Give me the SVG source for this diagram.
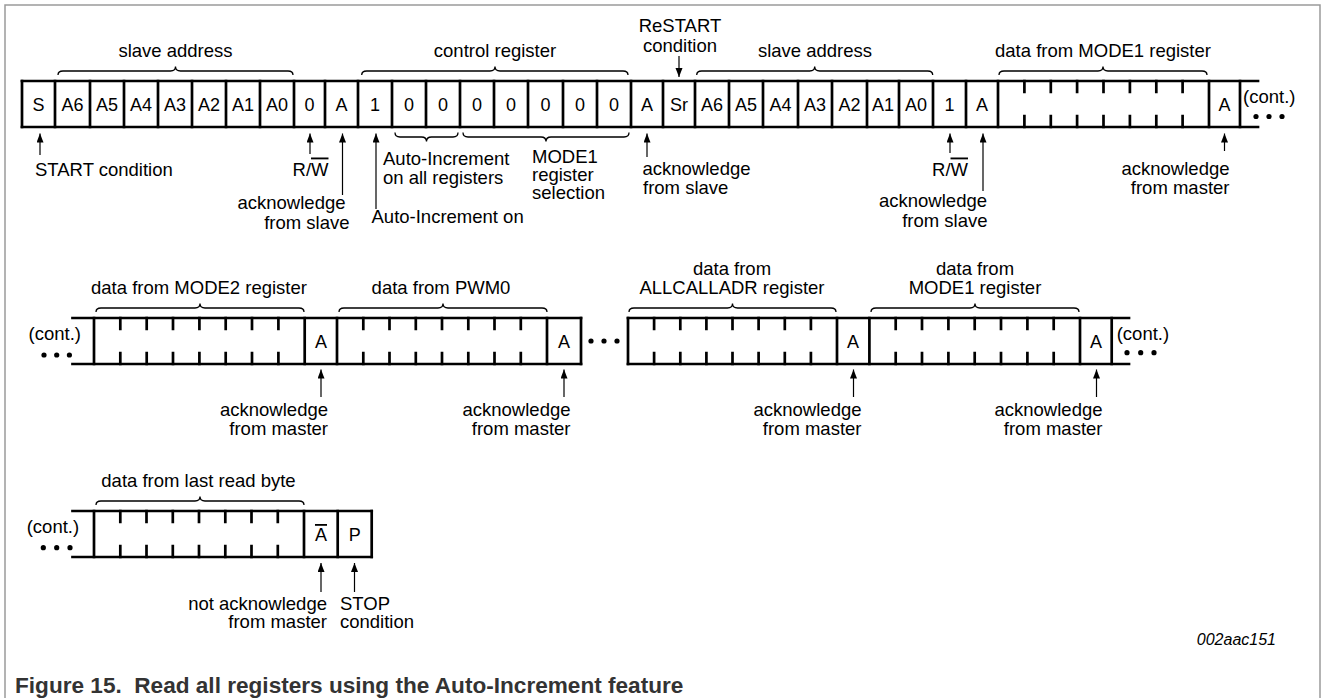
<svg xmlns="http://www.w3.org/2000/svg" width="1326" height="698" viewBox="0 0 1326 698">
<defs>
<style>
.frame{stroke:#9a9a9a;stroke-width:1.5;fill:none}
.bar{stroke:#000;stroke-width:2.7;fill:none;stroke-linecap:square}
.brace{stroke:#000;stroke-width:1.3;fill:none}
.arr{stroke:#000;stroke-width:1.2;fill:none;marker-end:url(#ah)}
.dot{fill:#000}
text{font-family:"Liberation Sans",Arial,Helvetica,sans-serif;font-size:18.5px;fill:#000}
.c{font-size:18px;text-anchor:middle}
.m{text-anchor:middle}
.e{text-anchor:end}
.ov{text-decoration:overline}
.id{font-style:italic;font-size:16px;text-anchor:end}
.cap{font-weight:bold;font-size:22.6px;fill:#333}
</style>
<marker id="ah" markerWidth="10" markerHeight="8" refX="9" refY="3.5" orient="auto" markerUnits="userSpaceOnUse">
<path d="M0,0 L9,3.5 L0,7 z" fill="#000"/>
</marker>
</defs>
<rect width="1326" height="698" fill="#fff"/>
<path class="frame" d="M5,698 V5 H1320 V698"/>

<!-- ROW 1 -->
<g id="row1">
<path class="bar" d="M22,81 H1258 M22,127 H1258"/>
<path class="bar" d="M22,81V127 M55,81V127 M90,81V127 M124,81V127 M158,81V127 M192,81V127 M226,81V127 M260,81V127 M294,81V127 M325,81V127 M358,81V127 M392,81V127 M426,81V127 M460,81V127 M494,81V127 M528,81V127 M563,81V127 M597,81V127 M631,81V127 M663,81V127 M695,81V127 M729,81V127 M763,81V127 M798,81V127 M832,81V127 M867,81V127 M899,81V127 M933,81V127 M966,81V127 M998,81V127 M1209,81V127 M1240,81V127"/>
<path class="bar" d="M1024.4,81V92 M1050.8,81V92 M1077.1,81V92 M1103.5,81V92 M1129.9,81V92 M1156.3,81V92 M1182.6,81V92 M1024.4,116V127 M1050.8,116V127 M1077.1,116V127 M1103.5,116V127 M1129.9,116V127 M1156.3,116V127 M1182.6,116V127"/>
<text class="c" x="38.5" y="111">S</text>
<text class="c" x="72.5" y="111">A6</text>
<text class="c" x="107" y="111">A5</text>
<text class="c" x="141" y="111">A4</text>
<text class="c" x="175" y="111">A3</text>
<text class="c" x="209" y="111">A2</text>
<text class="c" x="243" y="111">A1</text>
<text class="c" x="277" y="111">A0</text>
<text class="c" x="309.5" y="111">0</text>
<text class="c" x="341.5" y="111">A</text>
<text class="c" x="375" y="111">1</text>
<text class="c" x="409" y="111">0</text>
<text class="c" x="443" y="111">0</text>
<text class="c" x="477" y="111">0</text>
<text class="c" x="511" y="111">0</text>
<text class="c" x="545.5" y="111">0</text>
<text class="c" x="580" y="111">0</text>
<text class="c" x="614" y="111">0</text>
<text class="c" x="647" y="111">A</text>
<text class="c" x="679" y="111">Sr</text>
<text class="c" x="712" y="111">A6</text>
<text class="c" x="746" y="111">A5</text>
<text class="c" x="780.5" y="111">A4</text>
<text class="c" x="815" y="111">A3</text>
<text class="c" x="849.5" y="111">A2</text>
<text class="c" x="883" y="111">A1</text>
<text class="c" x="916" y="111">A0</text>
<text class="c" x="949.5" y="111">1</text>
<text class="c" x="982" y="111">A</text>
<text class="c" x="1224.5" y="111">A</text>
<text x="1243" y="103">(cont.)</text>
<circle class="dot" cx="1256" cy="116.5" r="2.6"/><circle class="dot" cx="1269" cy="116.5" r="2.6"/><circle class="dot" cx="1282" cy="116.5" r="2.6"/>
</g>

<g id="brace-slave-address-1">
<path class="brace" d="M58,75 Q58,71 63,71 H170.5 Q175.5,71 175.5,66.5 Q175.5,71 180.5,71 H288 Q293,71 293,75"/>
<text class="m" x="175.5" y="57">slave address</text>
</g>
<g id="brace-control-register">
<path class="brace" d="M361.7,75 Q361.7,71 366.7,71 H490 Q495,71 495,66.5 Q495,71 500,71 H623 Q628,71 628,75"/>
<text class="m" x="495" y="57">control register</text>
</g>
<g id="brace-slave-address-2">
<path class="brace" d="M696.7,75 Q696.7,71 701.7,71 H809.7 Q814.7,71 814.7,66.5 Q814.7,71 819.7,71 H927.7 Q932.7,71 932.7,75"/>
<text class="m" x="815" y="57">slave address</text>
</g>
<g id="brace-mode1-data">
<path class="brace" d="M999,75 Q999,71 1004,71 H1098 Q1103,71 1103,66.5 Q1103,71 1108,71 H1202 Q1207,71 1207,75"/>
<text class="m" x="1103" y="57">data from MODE1 register</text>
</g>
<g id="label-restart">
<text class="m" x="680" y="32">ReSTART</text>
<text class="m" x="680" y="51.5">condition</text>
</g>
<g id="brace-auto-increment-all">
<path class="brace" d="M395,132.5 Q395,137 400,137 H421.5 Q426.5,137 426.5,141.5 Q426.5,137 431.5,137 H453 Q458,137 458,132.5"/>
<text x="383" y="165">Auto-Increment</text>
<text x="383" y="183.5">on all registers</text>
</g>
<g id="brace-mode1-selection">
<path class="brace" d="M463,132.5 Q463,137 468,137 H541 Q546,137 546,141.5 Q546,137 551,137 H624 Q629,137 629,132.5"/>
<text x="532" y="162.5">MODE1</text>
<text x="532" y="180.5">register</text>
<text x="532" y="199">selection</text>
</g>
<g id="label-start">
<text x="35" y="175.5">START condition</text>
</g>
<g id="label-rw-1">
<text class="m" x="310.5" y="175.5">R/<tspan class="ov">W</tspan></text>
</g>
<g id="label-ack-slave-1">
<text class="e" x="345.5" y="209">acknowledge</text>
<text class="e" x="349.5" y="228.5">from slave</text>
</g>
<g id="label-auto-increment-on">
<text x="371.5" y="223">Auto-Increment on</text>
</g>
<g id="label-ack-slave-2">
<text x="642.5" y="175">acknowledge</text>
<text x="643" y="193.5">from slave</text>
</g>
<g id="label-rw-2">
<text class="m" x="950" y="175.5">R/<tspan class="ov">W</tspan></text>
</g>
<g id="label-ack-slave-3">
<text class="e" x="987" y="207">acknowledge</text>
<text class="e" x="987.5" y="226.5">from slave</text>
</g>
<g id="label-ack-master-1">
<text class="e" x="1229.5" y="175">acknowledge</text>
<text class="e" x="1229.5" y="193.5">from master</text>
</g>

<!-- ROW 2 -->
<g id="row2">
<path class="bar" d="M72.5,318 H581 M72.5,364 H581 M628,318 H1129 M628,364 H1129"/>
<path class="bar" d="M94,318V364 M304.7,318V364 M337,318V364 M547,318V364 M581,318V364 M628,318V364 M837,318V364 M869.4,318V364 M1080,318V364 M1111.7,318V364"/>
<path class="bar" d="M120.3,318V329 M146.7,318V329 M173,318V329 M199.4,318V329 M225.7,318V329 M252,318V329 M278.4,318V329 M120.3,353V364 M146.7,353V364 M173,353V364 M199.4,353V364 M225.7,353V364 M252,353V364 M278.4,353V364"/>
<path class="bar" d="M363.3,318V329 M389.5,318V329 M415.8,318V329 M442,318V329 M468.3,318V329 M494.5,318V329 M520.8,318V329 M363.3,353V364 M389.5,353V364 M415.8,353V364 M442,353V364 M468.3,353V364 M494.5,353V364 M520.8,353V364"/>
<path class="bar" d="M654.1,318V329 M680.3,318V329 M706.4,318V329 M732.5,318V329 M758.6,318V329 M784.8,318V329 M810.9,318V329 M654.1,353V364 M680.3,353V364 M706.4,353V364 M732.5,353V364 M758.6,353V364 M784.8,353V364 M810.9,353V364"/>
<path class="bar" d="M895.7,318V329 M922,318V329 M948.4,318V329 M974.7,318V329 M1001,318V329 M1027.4,318V329 M1053.7,318V329 M895.7,353V364 M922,353V364 M948.4,353V364 M974.7,353V364 M1001,353V364 M1027.4,353V364 M1053.7,353V364"/>
<text class="c" x="321" y="348">A</text>
<text class="c" x="564" y="348">A</text>
<text class="c" x="853" y="348">A</text>
<text class="c" x="1096" y="348">A</text>
<text x="28.6" y="340">(cont.)</text>
<circle class="dot" cx="44" cy="355" r="2.6"/><circle class="dot" cx="56.7" cy="355" r="2.6"/><circle class="dot" cx="69.4" cy="355" r="2.6"/>
<circle class="dot" cx="591" cy="341" r="2.6"/><circle class="dot" cx="604" cy="341" r="2.6"/><circle class="dot" cx="617" cy="341" r="2.6"/>
<text x="1116.7" y="340">(cont.)</text>
<circle class="dot" cx="1127" cy="352.7" r="2.6"/><circle class="dot" cx="1140.7" cy="352.7" r="2.6"/><circle class="dot" cx="1154" cy="352.7" r="2.6"/>
</g>
<g id="brace-mode2-data">
<path class="brace" d="M96,312 Q96,308 101,308 H195 Q200,308 200,303.5 Q200,308 205,308 H299 Q304,308 304,312"/>
<text class="m" x="199" y="294">data from MODE2 register</text>
</g>
<g id="brace-pwm0-data">
<path class="brace" d="M339,312 Q339,308 344,308 H438 Q443,308 443,303.5 Q443,308 448,308 H542 Q547,308 547,312"/>
<text class="m" x="441" y="294">data from PWM0</text>
</g>
<g id="brace-allcalladr-data">
<path class="brace" d="M629,312 Q629,308 634,308 H727.5 Q732.5,308 732.5,303.5 Q732.5,308 737.5,308 H831 Q836,308 836,312"/>
<text class="m" x="732" y="275">data from</text>
<text class="m" x="732" y="293.5">ALLCALLADR register</text>
</g>
<g id="brace-mode1-data-2">
<path class="brace" d="M871,312 Q871,308 876,308 H970 Q975,308 975,303.5 Q975,308 980,308 H1074 Q1079,308 1079,312"/>
<text class="m" x="975" y="275">data from</text>
<text class="m" x="975" y="293.5">MODE1 register</text>
</g>
<g id="label-ack-master-2">
<text class="e" x="328" y="415.5">acknowledge</text>
<text class="e" x="328" y="434.5">from master</text>
</g>
<g id="label-ack-master-3">
<text class="e" x="570.5" y="415.5">acknowledge</text>
<text class="e" x="570.5" y="434.5">from master</text>
</g>
<g id="label-ack-master-4">
<text class="e" x="861.5" y="415.5">acknowledge</text>
<text class="e" x="861.5" y="434.5">from master</text>
</g>
<g id="label-ack-master-5">
<text class="e" x="1102.5" y="415.5">acknowledge</text>
<text class="e" x="1102.5" y="434.5">from master</text>
</g>

<!-- ROW 3 -->
<g id="row3">
<path class="bar" d="M72.5,511 H371.7 M72.5,557 H371.7"/>
<path class="bar" d="M94,511V557 M304,511V557 M337.7,511V557 M371.7,511V557"/>
<path class="bar" d="M120.3,511V522 M146.5,511V522 M172.8,511V522 M199,511V522 M225.3,511V522 M251.5,511V522 M277.8,511V522 M120.3,546V557 M146.5,546V557 M172.8,546V557 M199,546V557 M225.3,546V557 M251.5,546V557 M277.8,546V557"/>
<text class="c" x="321" y="541"><tspan class="ov">A</tspan></text>
<text class="c" x="354.7" y="541">P</text>
<text x="26.7" y="533">(cont.)</text>
<circle class="dot" cx="43.3" cy="547.7" r="2.6"/><circle class="dot" cx="56.7" cy="547.7" r="2.6"/><circle class="dot" cx="70" cy="547.7" r="2.6"/>
</g>
<g id="brace-last-byte">
<path class="brace" d="M96,505 Q96,501 101,501 H195 Q200,501 200,496.5 Q200,501 205,501 H299 Q304,501 304,505"/>
<text class="m" x="198.5" y="487">data from last read byte</text>
</g>
<g id="label-nack-master">
<text class="e" x="327" y="610">not acknowledge</text>
<text class="e" x="327" y="628">from master</text>
</g>
<g id="label-stop">
<text x="340" y="610">STOP</text>
<text x="340" y="628">condition</text>
</g>

<g id="connectors">
<path class="arr" d="M679,56 V77"/>
<path class="arr" d="M40,155 V133.5"/>
<path class="arr" d="M310,154 V133.5"/>
<path class="arr" d="M342.5,195 V133.5"/>
<path class="arr" d="M376,209 V133.5"/>
<path class="arr" d="M647,157 V133.5"/>
<path class="arr" d="M950,153 V133.5"/>
<path class="arr" d="M983,191 V133.5"/>
<path class="arr" d="M1224.5,151 V133.5"/>
<path class="arr" d="M321,397 V369.5"/>
<path class="arr" d="M564,397 V369.5"/>
<path class="arr" d="M853.5,397 V369.5"/>
<path class="arr" d="M1096.5,397 V369.5"/>
<path class="arr" d="M321,592 V563"/>
<path class="arr" d="M354.5,592 V563"/>
</g>

<g id="figure-id">
<text class="id" x="1276" y="645">002aac151</text>
</g>
<g id="caption">
<text class="cap" x="15" y="693">Figure 15.&#160; Read all registers using the Auto-Increment feature</text>
</g>
</svg>
